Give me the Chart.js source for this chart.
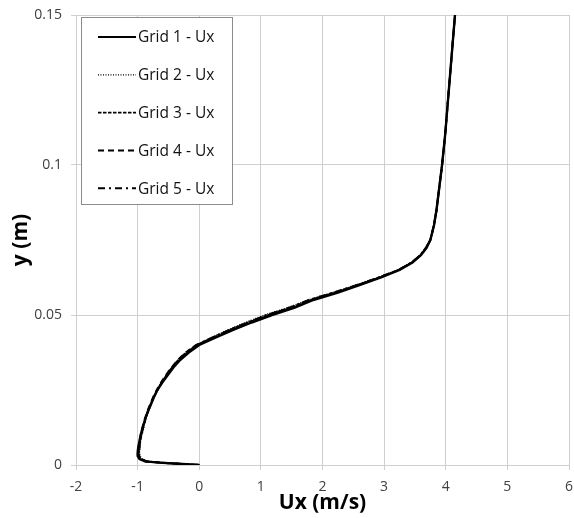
<!DOCTYPE html>
<html>
<head>
<meta charset="utf-8">
<script src="https://cdn.jsdelivr.net/npm/chart.js@4.4.0/dist/chart.umd.min.js"></script>
<style>
  html, body { margin: 0; padding: 0; background: #fff; }
  #wrap { width: 574px; height: 518px; }
</style>
</head>
<body>
<div id="wrap"><canvas id="canvas" width="574" height="518"></canvas></div>
<script>
// velocity profiles Ux(y) for the five meshes, sampled at shared heights
const yLevels = [0, 0.0004, 0.0008, 0.0012, 0.002, 0.003, 0.004, 0.006, 0.008, 0.010,
  0.0125, 0.015, 0.0175, 0.020, 0.0225, 0.025, 0.0275, 0.030, 0.0325, 0.035,
  0.0375, 0.040, 0.0425, 0.045, 0.0475, 0.050, 0.0525, 0.055, 0.0575, 0.060,
  0.0625, 0.065, 0.0675, 0.070, 0.0725, 0.075, 0.080, 0.085, 0.090, 0.095,
  0.100, 0.110, 0.120, 0.130, 0.140, 0.150];

const grid1Ux = [0, -0.35, -0.65, -0.88, -0.97, -1.00, -1.00, -0.99, -0.97, -0.95,
  -0.92, -0.88, -0.84, -0.79, -0.74, -0.68, -0.60, -0.51, -0.42, -0.31,
  -0.17, 0.00, 0.27, 0.55, 0.85, 1.18, 1.55, 1.85, 2.25, 2.60,
  2.95, 3.25, 3.46, 3.60, 3.69, 3.75, 3.81, 3.85, 3.88, 3.91,
  3.94, 3.99, 4.03, 4.07, 4.11, 4.15];

const grid2Ux = [0, -0.33, -0.62, -0.84, -0.93, -0.96, -0.97, -0.96, -0.95, -0.93,
  -0.90, -0.87, -0.83, -0.78, -0.73, -0.67, -0.60, -0.52, -0.43, -0.33,
  -0.20, -0.04, 0.20, 0.46, 0.75, 1.06, 1.44, 1.76, 2.16, 2.54,
  2.90, 3.22, 3.44, 3.59, 3.68, 3.75, 3.81, 3.85, 3.88, 3.91,
  3.94, 3.99, 4.03, 4.07, 4.11, 4.15];

const grid3Ux = [0, -0.34, -0.63, -0.86, -0.95, -0.98, -0.98, -0.97, -0.96, -0.94,
  -0.91, -0.88, -0.84, -0.79, -0.74, -0.68, -0.61, -0.53, -0.44, -0.34,
  -0.21, -0.04, 0.22, 0.49, 0.79, 1.11, 1.49, 1.80, 2.20, 2.57,
  2.92, 3.23, 3.45, 3.59, 3.68, 3.75, 3.81, 3.85, 3.88, 3.91,
  3.94, 3.99, 4.03, 4.07, 4.11, 4.15];

const grid4Ux = [0, -0.34, -0.64, -0.87, -0.96, -0.99, -0.99, -0.98, -0.97, -0.95,
  -0.92, -0.89, -0.85, -0.80, -0.75, -0.69, -0.62, -0.54, -0.45, -0.35,
  -0.22, -0.05, 0.23, 0.51, 0.81, 1.13, 1.51, 1.82, 2.22, 2.58,
  2.93, 3.24, 3.45, 3.60, 3.69, 3.75, 3.81, 3.85, 3.88, 3.91,
  3.94, 3.99, 4.03, 4.07, 4.11, 4.15];

const grid5Ux = [0, -0.33, -0.63, -0.85, -0.94, -0.97, -0.98, -0.97, -0.96, -0.94,
  -0.91, -0.88, -0.84, -0.79, -0.74, -0.68, -0.61, -0.53, -0.44, -0.34,
  -0.21, -0.05, 0.21, 0.48, 0.78, 1.09, 1.47, 1.78, 2.18, 2.56,
  2.91, 3.23, 3.44, 3.59, 3.68, 3.75, 3.81, 3.85, 3.88, 3.91,
  3.94, 3.99, 4.03, 4.07, 4.11, 4.15];

const seriesNames = ['Grid 1 - Ux', 'Grid 2 - Ux', 'Grid 3 - Ux', 'Grid 4 - Ux', 'Grid 5 - Ux'];
const xTicks = [-2, -1, 0, 1, 2, 3, 4, 5, 6];
const yTicks = [0, 0.05, 0.1, 0.15];

const lineStyles = [
  { dash: [], width: 2.4 },
  { dash: [1, 1.5], width: 1.3 },
  { dash: [3.5, 1.5], width: 1.9 },
  { dash: [6, 4], width: 2 },
  { dash: [7, 4, 2, 4], width: 1.9 }
];

const profiles = [grid1Ux, grid2Ux, grid3Ux, grid4Ux, grid5Ux];

const datasets = profiles.map((ux, i) => ({
  label: seriesNames[i],
  data: ux.map((x, k) => ({ x: x, y: yLevels[k] })),
  showLine: true,
  borderColor: '#000',
  backgroundColor: '#000',
  borderWidth: lineStyles[i].width,
  borderDash: lineStyles[i].dash,
  pointRadius: 0,
  tension: 0,
  order: 5 - i
}));

// boxed legend drawn over the top-left of the plot
const boxLegend = {
  id: 'boxLegend',
  afterDraw(chart) {
    const ctx = chart.ctx;
    const bx = 81.5, by = 17.5, bw = 151, bh = 187;
    ctx.save();
    ctx.fillStyle = '#fff';
    ctx.fillRect(bx, by, bw, bh);
    ctx.strokeStyle = '#8c8c8c';
    ctx.lineWidth = 1;
    ctx.strokeRect(bx, by, bw, bh);
    ctx.font = '15.5px "Open Sans"';
    ctx.textBaseline = 'middle';
    ctx.fillStyle = '#111';
    chart.data.datasets.forEach((ds, i) => {
      const cy = 37 + i * 37.8;
      ctx.beginPath();
      ctx.setLineDash(ds.borderDash);
      ctx.lineWidth = Math.min(ds.borderWidth, 2);
      ctx.strokeStyle = ds.borderColor;
      ctx.moveTo(98, cy);
      ctx.lineTo(136, cy);
      ctx.stroke();
      ctx.setLineDash([]);
      ctx.fillText(ds.label, 138, cy + 1);
    });
    ctx.restore();
  }
};

const gridColor = '#cfcfcf';

new Chart(document.getElementById('canvas'), {
  type: 'scatter',
  data: { datasets: datasets },
  options: {
    responsive: false,
    animation: false,
    layout: { padding: { top: 15, right: 5, left: 0, bottom: 0 } },
    plugins: {
      legend: { display: false },
      tooltip: { enabled: false }
    },
    scales: {
      x: {
        type: 'linear',
        min: -2,
        max: 6,
        afterBuildTicks: (scale) => { scale.ticks = xTicks.map(v => ({ value: v })); },
        afterFit: (scale) => {
          scale.height = 53;
          scale.paddingLeft = 0;
          scale.paddingRight = 0;
        },
        grid: { color: gridColor, tickLength: 5, lineWidth: 1 },
        border: { color: gridColor },
        ticks: {
          padding: 9,
          color: '#404040',
          font: { family: 'Open Sans', size: 14 }
        },
        title: {
          display: true,
          text: 'Ux (m/s)',
          color: '#000',
          padding: { top: 0, bottom: 2 },
          font: { family: 'Open Sans', size: 21, weight: 'bold' }
        }
      },
      y: {
        type: 'linear',
        min: 0,
        max: 0.15,
        afterBuildTicks: (scale) => { scale.ticks = yTicks.map(v => ({ value: v })); },
        afterFit: (scale) => {
          scale.width = 76;
          scale.paddingTop = 0;
          scale.paddingBottom = 0;
        },
        grid: { color: gridColor, tickLength: 5, lineWidth: 1 },
        border: { color: gridColor },
        ticks: {
          padding: 9,
          color: '#404040',
          font: { family: 'Open Sans', size: 14 },
          callback: (v) => String(v)
        },
        title: {
          display: true,
          text: 'y (m)',
          color: '#000',
          padding: { top: 8, bottom: 0 },
          font: { family: 'Open Sans', size: 21, weight: 'bold' }
        }
      }
    }
  },
  plugins: [boxLegend]
});
</script>
</body>
</html>
